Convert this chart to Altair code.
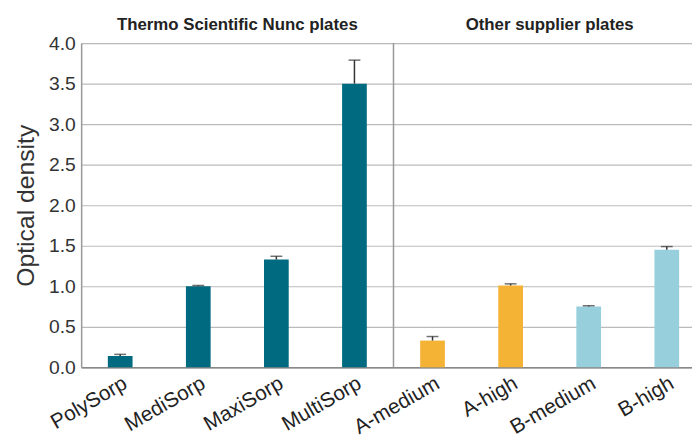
import altair as alt
import pandas as pd

categories = ["PolySorp", "MediSorp", "MaxiSorp", "MultiSorp",
              "A-medium", "A-high", "B-medium", "B-high"]
values = [0.14, 1.00, 1.33, 3.50, 0.33, 1.01, 0.75, 1.45]
err_tops = [0.16, 1.01, 1.37, 3.79, 0.38, 1.03, 0.76, 1.49]
series = ["Nunc", "Nunc", "Nunc", "Nunc", "A", "A", "B", "B"]
series_names = ["Nunc", "A", "B"]
series_colors = ["#006a80", "#f5b335", "#97d0dc"]
headers = ["Thermo Scientific Nunc plates", "Other supplier plates"]
header_anchor = ["MediSorp", "A-high"]
divider_after = ["MultiSorp"]
y_ticks = [0, 0.5, 1, 1.5, 2, 2.5, 3, 3.5, 4]

df = pd.DataFrame({"cat": categories, "value": values, "err": err_tops, "series": series})
hdr = pd.DataFrame({"label": headers, "cat": header_anchor})
div = pd.DataFrame({"cat": divider_after, "y0": [0.0], "y1": [4.0]})

W, H = 618, 328
xscale = alt.Scale(domain=categories, range=[0, 632], paddingInner=0, paddingOuter=0)
yscale = alt.Scale(domain=[0, 4], nice=False)

xaxis = alt.Axis(title=None, labelAngle=-30, labelAlign="right", labelBaseline="top",
                 labelPadding=5, ticks=False, labelFontSize=21, labelColor="#222",
                 labelFont="Liberation Sans", domainColor="#888", domainWidth=1.5,
                 grid=False)
yaxis = alt.Axis(title="Optical density", values=y_ticks, format=".1f", ticks=False,
                 labelPadding=6, labelFontSize=19.5, labelColor="#333",
                 labelFont="Liberation Sans", labelFlush=False,
                 domainColor="#999", domainWidth=1.5, gridColor="#bbbbbb", gridWidth=1.2,
                 titleFontSize=25, titleFontWeight="normal", titleColor="#333",
                 titleFont="Liberation Sans", titleX=-56, titleY=164,
                 titleAlign="center", titleBaseline="middle")

bars = alt.Chart(df).mark_bar(size=25).encode(
    x=alt.X("cat:N", scale=xscale, axis=xaxis, sort=categories),
    y=alt.Y("value:Q", scale=yscale, axis=yaxis),
    color=alt.Color("series:N", scale=alt.Scale(domain=series_names, range=series_colors),
                    legend=None),
)

err_rule = alt.Chart(df).mark_rule(color="#333", strokeWidth=1.5).encode(
    x=alt.X("cat:N", scale=xscale, sort=categories),
    y=alt.Y("value:Q", scale=yscale),
    y2="err:Q",
)
err_cap = alt.Chart(df).mark_tick(color="#333", size=12, thickness=1.5).encode(
    x=alt.X("cat:N", scale=xscale, sort=categories),
    y=alt.Y("err:Q", scale=yscale),
)

divider = alt.Chart(div).mark_rule(color="#999", strokeWidth=1.5).encode(
    x=alt.X("cat:N", scale=xscale, bandPosition=1, sort=categories),
    y=alt.Y("y0:Q", scale=yscale),
    y2="y1:Q",
)

header_text = alt.Chart(hdr).mark_text(fontSize=17, fontWeight="bold", color="#222",
                                       font="Liberation Sans", baseline="alphabetic",
                                       align="center").encode(
    x=alt.X("cat:N", scale=xscale, bandPosition=1, sort=categories),
    y=alt.value(-13),
    text="label:N",
)

chart = alt.layer(bars, err_rule, err_cap, divider, header_text).properties(
    width=W, height=H,
    autosize=alt.AutoSizeParams(type="none"),
    padding={"left": 74, "top": 33, "right": 0, "bottom": 72},
).configure_view(stroke=None).configure(background="white")

chart.save("out.html", embed_options={"renderer": "svg", "actions": False})
